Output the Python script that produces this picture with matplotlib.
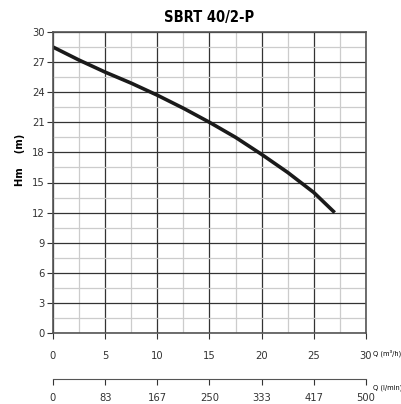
import numpy as np
import matplotlib
matplotlib.use("Agg")
import matplotlib.pyplot as plt

plt.rcParams['font.family'] = ['Liberation Sans Narrow', 'DejaVu Sans']
plt.rcParams['font.stretch'] = 'condensed'

# Pump curve
q_m3h = [0, 2.5, 5, 7.5, 10, 12.5, 15, 17.5, 20, 22.5, 25, 27]
head_m = [28.5, 27.2, 26.0, 24.9, 23.7, 22.4, 21.0, 19.5, 17.8, 16.0, 14.0, 12.0]

x_ticks = [0, 5, 10, 15, 20, 25, 30]
y_ticks = [0, 3, 6, 9, 12, 15, 18, 21, 24, 27, 30]
lmin_labels = ["0", "83", "167", "250", "333", "417", "500"]

fig = plt.figure(figsize=(4.02, 4.04), dpi=100)
ax = fig.add_axes([53 / 402, 1 - 333 / 404, 313 / 402, 301 / 404])

ax.set_xlim(0, 30)
ax.set_ylim(0, 30)
ax.set_xticks(x_ticks)
ax.set_yticks(y_ticks)
ax.set_xticks(np.arange(2.5, 30, 5), minor=True)
ax.set_yticks(np.arange(1.5, 30, 3), minor=True)
ax.grid(which='minor', color='#cccccc', linewidth=0.9)
ax.grid(which='major', color='#333333', linewidth=0.9)
ax.tick_params(which='minor', length=0)
ax.tick_params(axis='y', which='major', length=4, labelsize=8, colors='#333333', pad=2)
ax.tick_params(axis='x', which='major', length=4, labelsize=8, colors='#333333', pad=9)
for s in ax.spines.values():
    s.set_color('#555555')
    s.set_linewidth(1.2)

ax.plot(q_m3h, head_m, color='#1a1a1a', linewidth=2.6, solid_capstyle='butt')

ax.set_title("SBRT 40/2-P", fontsize=10.5, fontweight='bold', pad=7)
fig.text(20 / 402, 1 - 160 / 404, "Hm    (m)", fontsize=8, fontweight='bold',
         rotation=90, ha='center', va='center')
fig.text(373 / 402, 1 - 353 / 404, "Q (m³/h)", fontsize=5.3, va='center', ha='left')

# second axis in l/min
ax2 = fig.add_axes([53 / 402, 1 - 379 / 404, 313 / 402, 0.001])
ax2.set_xlim(0, 30)
ax2.set_yticks([])
ax2.set_xticks(x_ticks)
ax2.set_xticklabels(lmin_labels)
ax2.tick_params(axis='x', length=4, labelsize=8, colors='#333333', pad=6)
for side in ['top', 'left', 'right']:
    ax2.spines[side].set_visible(False)
ax2.spines['bottom'].set_color('#555555')
fig.text(373 / 402, 1 - 388 / 404, "Q (l/min)", fontsize=5.3, va='center', ha='left')

fig.savefig("out.png", dpi=100)
